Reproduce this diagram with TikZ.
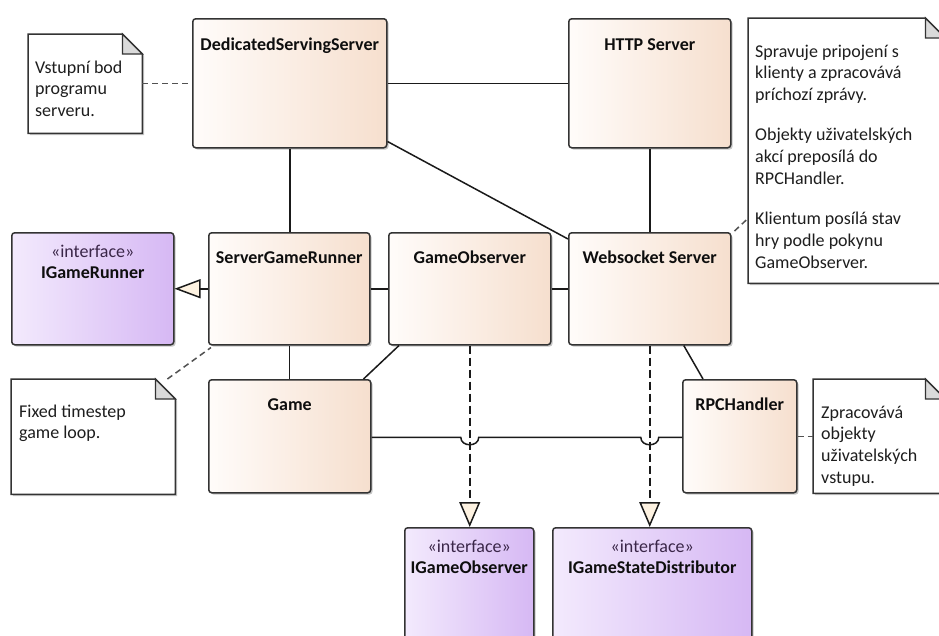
\documentclass[tikz,border=0pt]{standalone}
\usepackage{fontspec}
\setmainfont{Carlito}
\usetikzlibrary{arrows.meta,shadows}
\definecolor{clsL}{HTML}{FFFCFA}
\definecolor{clsR}{HTML}{F6DFCE}
\definecolor{ifL}{HTML}{F3EAFD}
\definecolor{ifR}{HTML}{D6B8F4}
\definecolor{edgecol}{HTML}{333333}
\definecolor{linecol}{HTML}{1A1A1A}
\definecolor{tipfill}{HTML}{FDF2E1}
\definecolor{foldgray}{HTML}{DADADA}
\definecolor{titlecol}{HTML}{0E0E0E}
\definecolor{stereocol}{HTML}{3A2648}
\definecolor{notecol}{HTML}{1E1E1E}
\newcommand\drawnote[1]{%
  \filldraw[noteedge] (#1.north west) -- ([xshift=-20pt]#1.north east) -- ([yshift=-20pt]#1.north east) -- (#1.south east) -- (#1.south west) -- cycle;
  \filldraw[notefold] ([xshift=-20pt]#1.north east) -- ([xshift=-20pt,yshift=-20pt]#1.north east) -- ([yshift=-20pt]#1.north east) -- cycle;}
\begin{document}
\begin{tikzpicture}[x=1pt,y=-1pt,
  shad/.style={drop shadow={shadow xshift=1.8pt,shadow yshift=-1.8pt,opacity=0.22,fill=black}},
  cls/.style={draw=edgecol, line width=1.5pt, rounded corners=3pt, left color=clsL, right color=clsR, inner sep=0pt, anchor=north west, shad},
  ifc/.style={draw=edgecol, line width=1.5pt, rounded corners=3pt, left color=ifL, right color=ifR, inner sep=0pt, anchor=north west, shad},
  notearea/.style={inner sep=0pt, anchor=north west},
  noteedge/.style={draw=edgecol, line width=1.5pt, fill=white, shad},
  notefold/.style={draw=edgecol, line width=1.3pt, fill=foldgray},
  ttl/.style={font=\fontsize{18}{22}\selectfont\bfseries, text=titlecol, inner sep=0pt, anchor=base},
  stereo/.style={font=\fontsize{18}{22}\selectfont, text=stereocol, inner sep=0pt, anchor=base},
  notetxt/.style={font=\fontsize{18}{21.8}\selectfont, text=notecol, align=left, inner sep=0pt, anchor=north west},
  assoc/.style={draw=linecol, line width=1.5pt},
  notelink/.style={draw=edgecol!85, line width=1.5pt, dash pattern=on 6pt off 4pt},
  realize/.style={draw=linecol, line width=1.5pt, -{Triangle[length=26pt,width=19pt,fill=tipfill]}},
  depend/.style={draw=linecol, line width=1.5pt, dash pattern=on 8pt off 4pt, -{Triangle[length=25pt,width=21pt,fill=tipfill]}}
]
\useasboundingbox (0,0) rectangle (939,635);
\fill[white] (0,0) rectangle (939,635);
\clip (0,0) rectangle (939,635);

% class boxes
\node[cls, minimum width=194pt, minimum height=129pt] (dss) at (192,18) {};
\node[cls, minimum width=162pt, minimum height=129pt] (http) at (568,18) {};
\node[cls, minimum width=162pt, minimum height=112pt] (ws) at (568,232) {};
\node[cls, minimum width=161pt, minimum height=112pt] (sgr) at (208,232) {};
\node[cls, minimum width=162pt, minimum height=112pt] (go) at (388,232) {};
\node[cls, minimum width=162pt, minimum height=113pt] (game) at (208,379) {};
\node[cls, minimum width=114pt, minimum height=113pt] (rpc) at (682,379) {};
% interfaces
\node[ifc, minimum width=162pt, minimum height=112pt] (igr) at (11,232) {};
\node[ifc, minimum width=129pt, minimum height=130pt] (igo) at (404,527) {};
\node[ifc, minimum width=199pt, minimum height=130pt] (igsd) at (552,527) {};
% notes
\node[notearea, minimum width=114pt, minimum height=99pt] (n1) at (28,34) {};
\node[notearea, minimum width=197pt, minimum height=265pt] (n2) at (748,18) {};
\node[notearea, minimum width=164pt, minimum height=115pt] (n3) at (11,379) {};
\node[notearea, minimum width=132pt, minimum height=114pt] (n4) at (813,379) {};
\drawnote{n1}
\drawnote{n2}
\drawnote{n3}
\drawnote{n4}

% titles
\node[ttl] (dsst) at ([yshift=-32pt]dss.north) {DedicatedServingServer};
\node[ttl] (httpt) at ([yshift=-32pt]http.north) {HTTP Server};
\node[ttl] (wst) at ([yshift=-31pt]ws.north) {Websocket Server};
\node[ttl] (sgrt) at ([yshift=-31pt]sgr.north) {ServerGameRunner};
\node[ttl] (got) at ([yshift=-31pt]go.north) {GameObserver};
\node[ttl] (gamet) at ([yshift=-31pt]game.north) {Game};
\node[ttl] (rpct) at ([yshift=-31pt]rpc.north) {RPCHandler};
\node[stereo] (igrs) at ([yshift=-25pt]igr.north) {«interface»};
\node[ttl] (igrt) at ([yshift=-46pt]igr.north) {IGameRunner};
\node[stereo] (igos) at ([yshift=-25pt]igo.north) {«interface»};
\node[ttl] (igot) at ([yshift=-46.5pt]igo.north) {IGameObserver};
\node[stereo] (igsds) at ([yshift=-25pt]igsd.north) {«interface»};
\node[ttl] (igsdt) at ([yshift=-46.5pt]igsd.north) {IGameStateDistributor};

% note texts
\node[notetxt] (n1t) at ([xshift=7pt,yshift=-23.6pt]n1.north west) {\strut Vstupní bod\\programu\\serveru.};
\node[notetxt] (n2t) at ([xshift=7pt,yshift=-23.6pt]n2.north west) {\strut Spravuje pripojení s\\klienty a zpracovává\\príchozí zprávy.\\[18.5pt]Objekty uživatelských\\akcí preposílá do\\RPCHandler.\\[18.5pt]Klientum posílá stav\\hry podle pokynu\\GameObserver.};
\node[notetxt] (n3t) at ([xshift=8pt,yshift=-22.6pt]n3.north west) {\strut Fixed timestep\\game loop.};
\node[notetxt] (n4t) at ([xshift=8pt,yshift=-23.6pt]n4.north west) {\strut Zpracovává\\objekty\\uživatelských\\vstupu.};

% associations
\draw[assoc] (dss.east) -- (http.west);
\draw[assoc] (dss.south) -- (dss.south |- sgr.north);
\draw[assoc] ([yshift=7pt]dss.south east) -- ([yshift=-7pt]ws.north west);
\draw[assoc] (http.south) -- (ws.north);
\draw[assoc] (sgr.east) -- (go.west);
\draw[assoc] (go.east) -- (ws.west);
\draw[assoc] (sgr.south) -- (sgr.south |- game.north);
\draw[assoc] ([xshift=11pt]go.south west) -- ([xshift=-8pt]game.north east);
\draw[assoc] ([xshift=34pt]ws.south) -- ([xshift=21pt]rpc.north west);
\coordinate (j1) at ([yshift=-1pt]go.south |- game.east);
\coordinate (j2) at ([yshift=-1pt]ws.south |- game.east);
\draw[assoc] ([yshift=-1pt]game.east) -- ([xshift=-9pt]j1)
  .. controls ([xshift=-9pt,yshift=-10pt]j1) and ([xshift=9pt,yshift=-10pt]j1) .. ([xshift=9pt]j1)
  -- ([xshift=-9pt]j2)
  .. controls ([xshift=-9pt,yshift=-10pt]j2) and ([xshift=9pt,yshift=-10pt]j2) .. ([xshift=9pt]j2)
  -- (rpc.west |- j2);

% realization / dependencies
\draw[realize] (sgr.west) -- (igr.east);
\draw[depend] (go.south) -- (go.south |- igo.north);
\draw[depend] (ws.south) -- (ws.south |- igsd.north);

% note links
\draw[notelink] (n1.east) -- (dss.west |- n1.east);
\draw[notelink] ([xshift=3pt,yshift=1pt]ws.north east) -- ([yshift=65pt]n2.south west);
\draw[notelink] ([xshift=-8pt]n3.north east) -- ([xshift=3pt,yshift=-2pt]sgr.south west);
\draw[notelink] (rpc.east) -- (n4.west |- rpc.east);
\end{tikzpicture}
\end{document}
